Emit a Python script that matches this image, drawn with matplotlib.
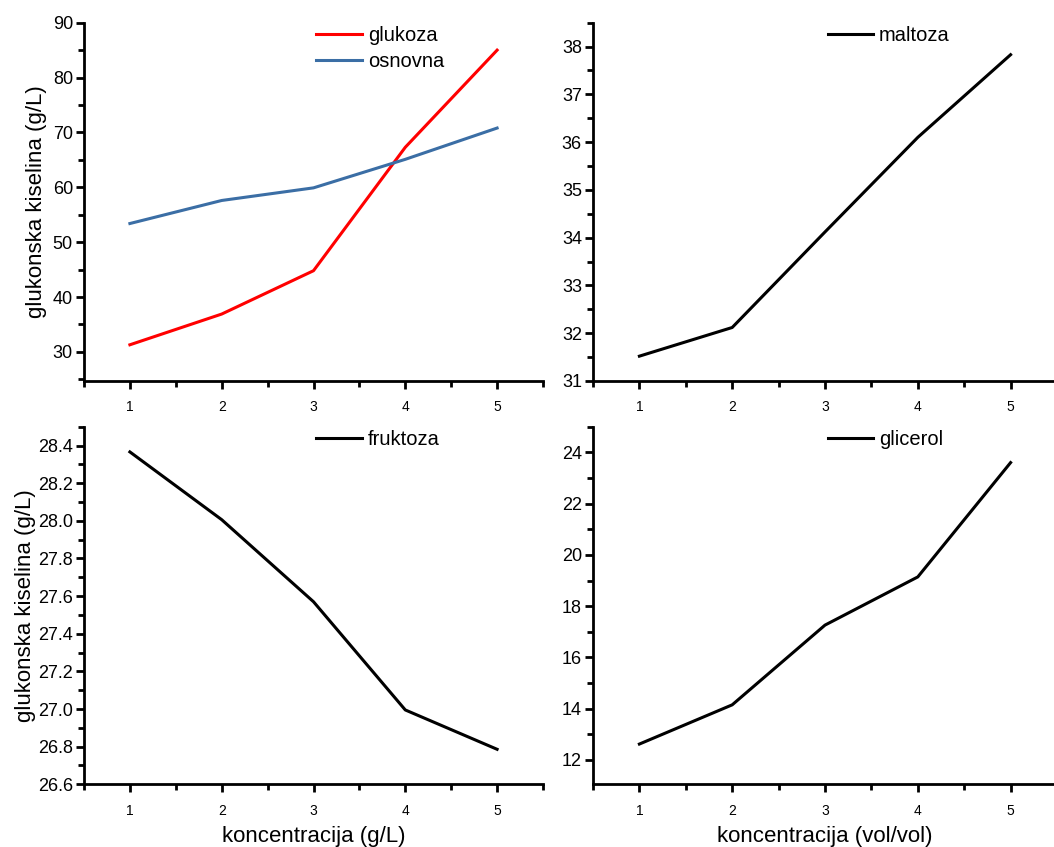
import matplotlib
matplotlib.use("Agg")
import matplotlib.pyplot as plt
from matplotlib.ticker import MultipleLocator, FormatStrFormatter

plt.rcParams['font.family'] = ['Liberation Sans', 'DejaVu Sans']

# podaci
koncentracija = [1, 2, 3, 4, 5]
glukoza = [31.3, 36.9, 44.8, 67.3, 85.0]
osnovna = [53.4, 57.6, 59.9, 65.1, 70.8]
maltoza = [31.52, 32.12, 34.12, 36.1, 37.83]
fruktoza = [28.366, 28.006, 27.57, 26.995, 26.786]
glicerol = [12.62, 14.15, 17.26, 19.14, 23.6]

y_label = 'glukonska kiselina (g/L)'
x_label_gl = 'koncentracija (g/L)'
x_label_vol = 'koncentracija (vol/vol)'

W, H = 1054, 847
fig = plt.figure(figsize=(W / 100, H / 100), dpi=100)


def napravi_os(rect, ylim, major, minor):
    ax = fig.add_axes(rect)
    ax.set_xlim(0.5, 5.5)
    ax.set_ylim(*ylim)
    ax.xaxis.set_major_locator(MultipleLocator(1))
    ax.xaxis.set_minor_locator(MultipleLocator(0.5))
    ax.yaxis.set_major_locator(MultipleLocator(major))
    ax.yaxis.set_minor_locator(MultipleLocator(minor))
    for s in ['top', 'right']:
        ax.spines[s].set_visible(False)
    for s in ['left', 'bottom']:
        ax.spines[s].set_linewidth(2)
    ax.tick_params(which='major', direction='out', length=6, width=2)
    ax.tick_params(which='minor', direction='out', length=4, width=2)
    ax.tick_params(axis='x', labelsize=10, pad=8)
    ax.tick_params(axis='y', labelsize=13, pad=2)
    ax.set_facecolor('none')
    return ax


# polozaji u pikselima
def rect(l, r, b, t):
    return [l / W, 1 - b / H, (r - l) / W, (b - t) / H]


ax1 = napravi_os(rect(84, 543, 381, 22.7), (24.7, 90), 10, 5)
ax2 = napravi_os(rect(593, 1057, 381, 22.7), (31, 38.5), 1, 0.5)
ax3 = napravi_os(rect(84, 543, 784.3, 426.7), (26.6, 28.5), 0.2, 0.1)
ax4 = napravi_os(rect(593, 1057, 784.3, 426.7), (11.05, 25), 2, 1)

ax1.plot(koncentracija, glukoza, color='#ff0000', lw=2.2, label='glukoza')
ax1.plot(koncentracija, osnovna, color='#3b6ea5', lw=2.2, label='osnovna')
ax2.plot(koncentracija, maltoza, color='black', lw=2.2, label='maltoza')
ax3.plot(koncentracija, fruktoza, color='black', lw=2.2, label='fruktoza')
ax4.plot(koncentracija, glicerol, color='black', lw=2.2, label='glicerol')

ax3.yaxis.set_major_formatter(FormatStrFormatter('%.1f'))

for ax in [ax1, ax2, ax3, ax4]:
    ax.legend(loc='upper left', bbox_to_anchor=(0.48, 1.025), frameon=False,
              fontsize=14.5, handlelength=2.25, handletextpad=0.3,
              labelspacing=0.38, borderaxespad=0.2)

ax1.set_ylabel(y_label, fontsize=16, labelpad=4)
ax3.set_ylabel(y_label, fontsize=16, labelpad=1)
ax3.set_xlabel(x_label_gl, fontsize=16, labelpad=6)
ax4.set_xlabel(x_label_vol, fontsize=16, labelpad=6)

fig.savefig('out.png', dpi=100)
